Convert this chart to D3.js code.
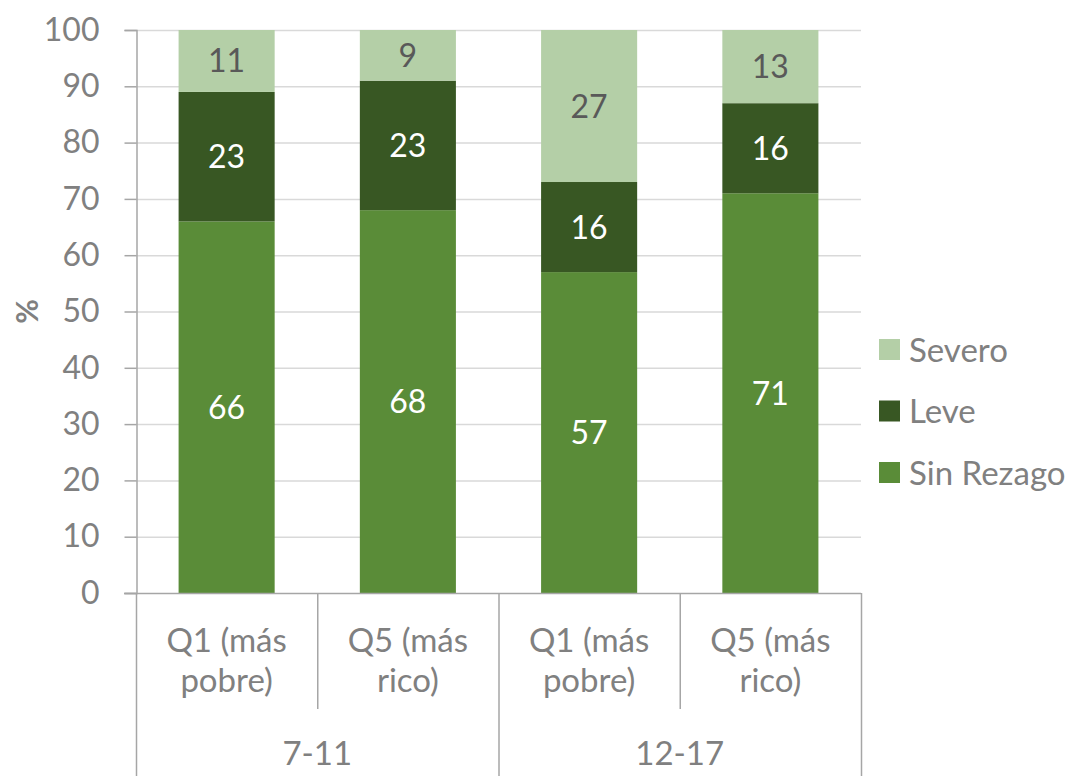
<!DOCTYPE html>
<html>
<head>
<meta charset="utf-8">
<script src="https://cdn.jsdelivr.net/npm/d3@7"></script>
<style>
  body { margin: 0; background: #fff; }
  text { font-family: Lato, "Open Sans", sans-serif; }
</style>
</head>
<body>
<div id="chart"></div>
<script>
(function(d3) {
  'use strict';

  // data
  var groups = ['7-11', '7-11', '12-17', '12-17'];
  var quintiles = ['Q1 (más|pobre)', 'Q5 (más|rico)', 'Q1 (más|pobre)', 'Q5 (más|rico)'];
  var sinRezago = [66, 68, 57, 71];
  var leve = [23, 23, 16, 16];
  var severo = [11, 9, 27, 13];
  var seriesNames = ['Sin Rezago', 'Leve', 'Severo'];
  var yTicks = [0, 10, 20, 30, 40, 50, 60, 70, 80, 90, 100];

  var width = 1074;
  var height = 776;
  var left = 136, right = 861, top = 30, bottom = 593;

  var colors = { 'Sin Rezago': '#5a8c38', 'Leve': '#385723', 'Severo': '#b4cfa7' };
  var labelColors = { 'Sin Rezago': '#ffffff', 'Leve': '#ffffff', 'Severo': '#595959' };

  var rows = quintiles.map(function(q, i) {
    return { id: i, 'Sin Rezago': sinRezago[i], 'Leve': leve[i], 'Severo': severo[i] };
  });

  var svg = d3.select('#chart')
    .append('svg')
    .attr('width', width)
    .attr('height', height);

  var x = d3.scaleBand()
    .domain(d3.range(quintiles.length))
    .range([left, right])
    .paddingInner(0.47)
    .paddingOuter(0.235);

  var y = d3.scaleLinear()
    .domain([0, 100])
    .range([bottom, top]);

  // gridlines
  svg.append('g')
    .selectAll('line')
    .data(yTicks.slice(1))
    .enter()
    .append('line')
    .attr('x1', left)
    .attr('x2', right)
    .attr('y1', function(d) { return y(d) + 0.5; })
    .attr('y2', function(d) { return y(d) + 0.5; })
    .attr('stroke', '#d9d9d9')
    .attr('stroke-width', 1.5);

  // y axis
  var yAxis = d3.axisLeft(y)
    .tickValues(yTicks)
    .tickSize(12)
    .tickPadding(25);

  var gy = svg.append('g')
    .attr('transform', 'translate(' + (left + 0.5) + ',0)')
    .call(yAxis);
  gy.select('.domain').attr('stroke', '#a6a6a6').attr('stroke-width', 1.5);
  gy.selectAll('.tick line').attr('stroke', '#a6a6a6').attr('stroke-width', 1.5);
  gy.selectAll('.tick text')
    .attr('fill', '#808080')
    .style('font-size', '32px')
    .style('font-family', 'Lato, sans-serif');

  svg.append('text')
    .attr('transform', 'translate(38,' + ((top + bottom) / 2) + ') rotate(-90)')
    .attr('text-anchor', 'middle')
    .attr('fill', '#808080')
    .style('font-size', '30px')
    .style('font-weight', 'bold')
    .text('%');

  // stacked bars
  var stack = d3.stack().keys(seriesNames);
  var layers = stack(rows);

  var layer = svg.selectAll('.layer')
    .data(layers)
    .enter()
    .append('g')
    .attr('class', 'layer')
    .attr('fill', function(d) { return colors[d.key]; });

  layer.selectAll('rect')
    .data(function(d) { return d; })
    .enter()
    .append('rect')
    .attr('x', function(d, i) { return x(i); })
    .attr('width', x.bandwidth())
    .attr('y', function(d) { return y(d[1]); })
    .attr('height', function(d) { return y(d[0]) - y(d[1]); });

  layer.selectAll('text')
    .data(function(d) { return d.map(function(v) { v.key = d.key; return v; }); })
    .enter()
    .append('text')
    .attr('x', function(d, i) { return x(i) + x.bandwidth() / 2; })
    .attr('y', function(d) { return (y(d[0]) + y(d[1])) / 2; })
    .attr('dy', '0.36em')
    .attr('text-anchor', 'middle')
    .attr('fill', function(d) { return labelColors[d.key]; })
    .style('font-size', '32px')
    .text(function(d) { return d[1] - d[0]; });

  // category axis (two levels)
  var axisColor = '#a6a6a6';
  var step = x.step();
  var cat = svg.append('g').attr('stroke', axisColor).attr('stroke-width', 1.5);

  cat.append('line')
    .attr('x1', left - 12).attr('x2', right)
    .attr('y1', bottom + 0.5).attr('y2', bottom + 0.5);

  // separators between quintiles
  d3.range(quintiles.length + 1).forEach(function(i) {
    var xx = left + i * step;
    var full = (i === 0 || i === quintiles.length || groups[i] !== groups[i - 1]);
    cat.append('line')
      .attr('x1', xx + 0.5).attr('x2', xx + 0.5)
      .attr('y1', bottom).attr('y2', full ? height : 709);
  });

  var labels = svg.append('g')
    .attr('fill', '#808080')
    .style('font-size', '33px');

  quintiles.forEach(function(q, i) {
    var t = labels.append('text')
      .attr('x', x(i) + x.bandwidth() / 2)
      .attr('y', 652)
      .attr('text-anchor', 'middle');
    q.split('|').forEach(function(line, j) {
      t.append('tspan')
        .attr('x', x(i) + x.bandwidth() / 2)
        .attr('dy', j === 0 ? 0 : 40)
        .text(line);
    });
  });

  var groupNames = Array.from(new Set(groups));
  groupNames.forEach(function(g) {
    var idx = d3.range(groups.length).filter(function(i) { return groups[i] === g; });
    var x0 = left + idx[0] * step;
    var x1 = left + (idx[idx.length - 1] + 1) * step;
    labels.append('text')
      .attr('x', (x0 + x1) / 2)
      .attr('y', 765)
      .attr('text-anchor', 'middle')
      .text(g);
  });

  // legend
  var legendItems = seriesNames.slice().reverse();
  var legend = svg.selectAll('.legend')
    .data(legendItems)
    .enter()
    .append('g')
    .attr('class', 'legend')
    .attr('transform', function(d, i) { return 'translate(879,' + (339 + i * 61.5) + ')'; });

  legend.append('rect')
    .attr('width', 21)
    .attr('height', 21)
    .attr('fill', function(d) { return colors[d]; });

  legend.append('text')
    .attr('x', 30)
    .attr('y', 11)
    .attr('dy', '0.36em')
    .attr('fill', '#808080')
    .style('font-size', '33px')
    .text(function(d) { return d; });

})(window.d3);
</script>
</body>
</html>
